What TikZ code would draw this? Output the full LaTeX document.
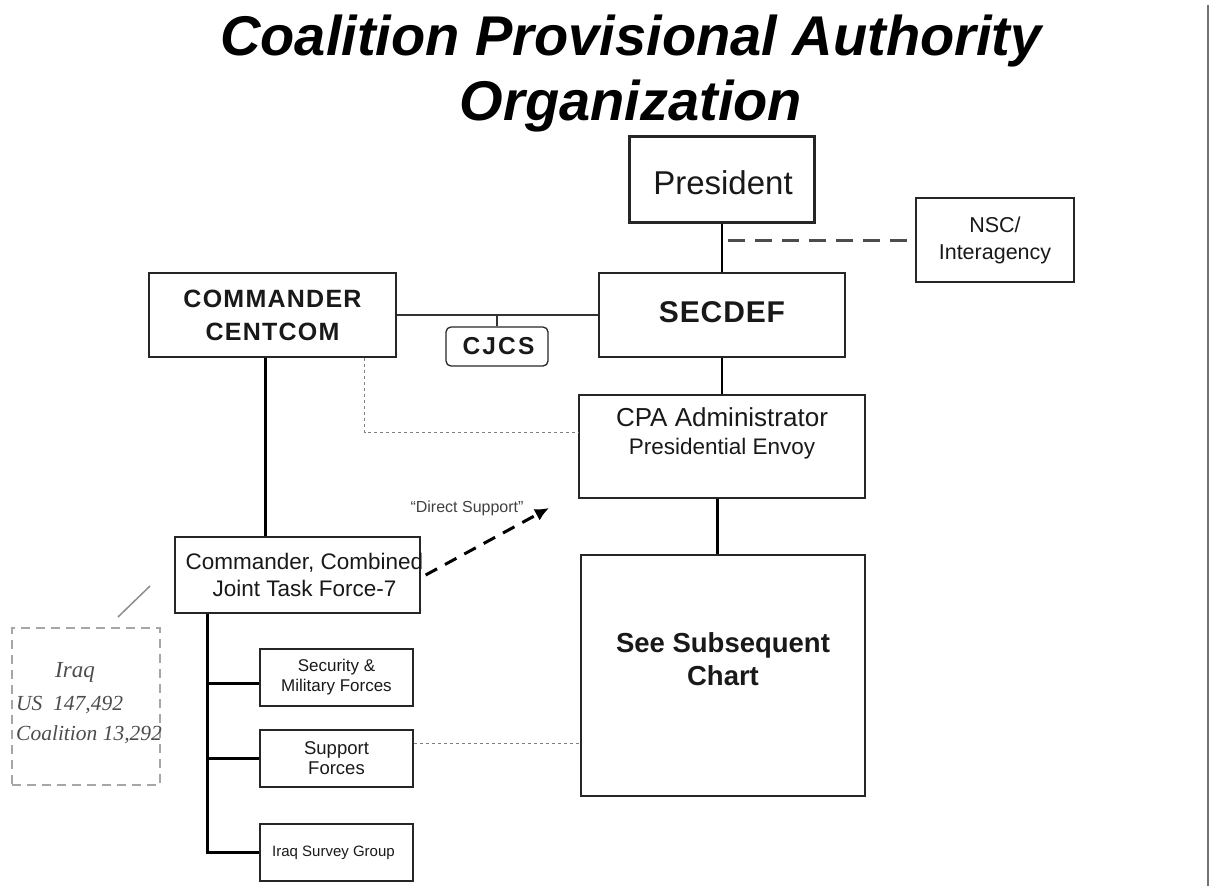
\documentclass[tikz,border=0pt]{standalone}
\usepackage{fontspec}
\setmainfont{Liberation Sans}
\newfontfamily\serifit{Liberation Serif}
\usetikzlibrary{arrows.meta}
\begin{document}
\begin{tikzpicture}[x=1pt,y=-1pt,
  box/.style={draw=black!85, line width=1.3pt, rectangle, inner sep=0pt, align=center, text=black!90},
  smallbox/.style={box, minimum width=153pt, minimum height=57pt},
  thickline/.style={draw=black, line width=3pt},
  medline/.style={draw=black, line width=2pt},
  thinline/.style={draw=black!80, line width=1.4pt},
  dotline/.style={draw=black!50, line width=1.4pt, dash pattern=on 3pt off 3pt},
  nscdash/.style={draw=black!70, line width=3pt, dash pattern=on 17pt off 10pt},
  dsarrow/.style={draw=black, line width=3pt, dash pattern=on 13pt off 9pt, -{Latex[length=14pt,width=13pt]}},
  ttl/.style={font=\fontsize{56}{60}\selectfont\bfseries\itshape, anchor=base, inner sep=0pt},
  iraqtxt/.style={font=\serifit\itshape\fontsize{21.5}{24}\selectfont, text=black!70, inner sep=0pt}
]
\useasboundingbox (0,0) rectangle (1210,886);

% title
\node[ttl] (t1) at (631,55) {Coalition Provisional Authority};
\node[ttl] (t2) at (631,120) {Organization};

% boxes
\node[box, line width=3pt, minimum width=185pt, minimum height=86pt, font=\fontsize{33}{36}\selectfont] (pres) at (722,179) {};
\node[font=\fontsize{33}{36}\selectfont, text=black!90, inner sep=0pt] (prestext) at (723,183) {President};
\node[box, minimum width=158pt, minimum height=84pt, font=\fontsize{21.5}{27}\selectfont] (nsc) at (995,240) {NSC/\\Interagency};
\node[box, minimum width=246pt, minimum height=84pt, font=\fontsize{30}{32}\selectfont\bfseries\addfontfeature{LetterSpace=3}] (secdef) at (722,315) {\raisebox{5pt}{SECDEF}};
\node[box, minimum width=247pt, minimum height=84pt, font=\fontsize{25}{33}\selectfont\bfseries\addfontfeature{LetterSpace=5}] (centcom) at (272.5,315) {COMMANDER\\CENTCOM};
\node[box, rounded corners=5pt, minimum width=102pt, minimum height=39pt, font=\fontsize{24.5}{26}\selectfont\bfseries\addfontfeature{LetterSpace=9}] (cjcs) at (497,346.5) {\hspace*{3pt}CJCS};
\node[box, minimum width=286pt, minimum height=103pt,
  label={[anchor=north, yshift=-10pt, align=center, font=\fontsize{26}{28}\selectfont, text=black!90]north:CPA Administrator\\{\fontsize{22.5}{24}\selectfont Presidential Envoy}}] (cpa) at (722,446.5) {};
\node[box, minimum width=245pt, minimum height=76pt,
  label={[xshift=7pt, align=center, font=\fontsize{22.5}{27}\selectfont, text=black!90]center:Commander, Combined\\Joint Task Force-7}] (cjtf) at (297.5,575) {};
\node[box, minimum width=284pt, minimum height=241pt,
  label={[yshift=16pt, align=center, font=\fontsize{27.5}{33}\selectfont\bfseries, text=black!90]center:See Subsequent\\Chart}] (subs) at (723,675.5) {};
\node[smallbox, font=\fontsize{17}{20}\selectfont] (sec) at (336.5,677.5) {Security \&\\Military Forces};
\node[smallbox, font=\fontsize{18.5}{20}\selectfont] (sup) at (336.5,758.5) {Support\\Forces};
\node[smallbox, font=\fontsize{15}{16}\selectfont] (isg) at (336.5,852.5) {\hspace*{-6pt}Iraq Survey Group};

% Iraq callout
\node[draw=black!35, dashed, dash pattern=on 9pt off 6pt, line width=1.5pt, minimum width=148pt, minimum height=157pt, inner sep=0pt] (iraq) at (86,706.5) {};
\node[iraqtxt, anchor=base] (iraq1) at (75,677) {\fontsize{23}{24}\selectfont Iraq};
\node[iraqtxt, anchor=base west] (iraq2) at (16,710) {US\ \ 147,492};
\node[iraqtxt, anchor=base west] (iraq3) at (16,740) {Coalition 13,292};
\coordinate (call1) at (118,617);
\coordinate (call2) at (150,586);
\draw[draw=black!45, line width=1.5pt] (call1) -- (call2);

% connectors
\draw[medline, line width=2.5pt] (pres.south) -- (secdef.north);
\draw[nscdash] ([xshift=6pt]pres.south |- nsc.west) -- (nsc.west);
\draw[thinline] (centcom.east) -- (secdef.west);
\draw[thinline] (cjcs.north) -- (cjcs.north |- centcom.east);
\draw[medline] (secdef.south) -- (cpa.north);
\draw[dotline] ([xshift=-32pt]centcom.south east) |- ([yshift=14pt]cpa.west);
\draw[thickline] ([xshift=-7.5pt]centcom.south) -- ([xshift=-7.5pt]centcom.south |- cjtf.north);
\draw[thickline] ([xshift=-5pt]cpa.south) -- ([xshift=-5pt]cpa.south |- subs.north);

\coordinate (dsend) at (549,508);
\draw[dsarrow] ([xshift=5pt]cjtf.east) -- (dsend);
\node[font=\fontsize{16}{18}\selectfont, text=black!75, inner sep=0pt] (dslabel) at (467,508) {“Direct Support”};

\coordinate (trunk) at ([xshift=-90.5pt]cjtf.south);
\draw[thickline] (trunk) -- (trunk |- isg.west) -- (isg.west);
\draw[thickline] ([yshift=-5.5pt]trunk |- sec.west) -- ([yshift=-5.5pt]sec.west);
\draw[thickline] (trunk |- sup.west) -- (sup.west);
\draw[dotline] ([yshift=15pt]sup.east) -- ([yshift=15pt]sup.east -| subs.west);

% right edge line
\coordinate (edge1) at (1208,5);
\coordinate (edge2) at (1208,886);
\draw[draw=black!55, line width=2pt] (edge1) -- (edge2);
\end{tikzpicture}
\end{document}
